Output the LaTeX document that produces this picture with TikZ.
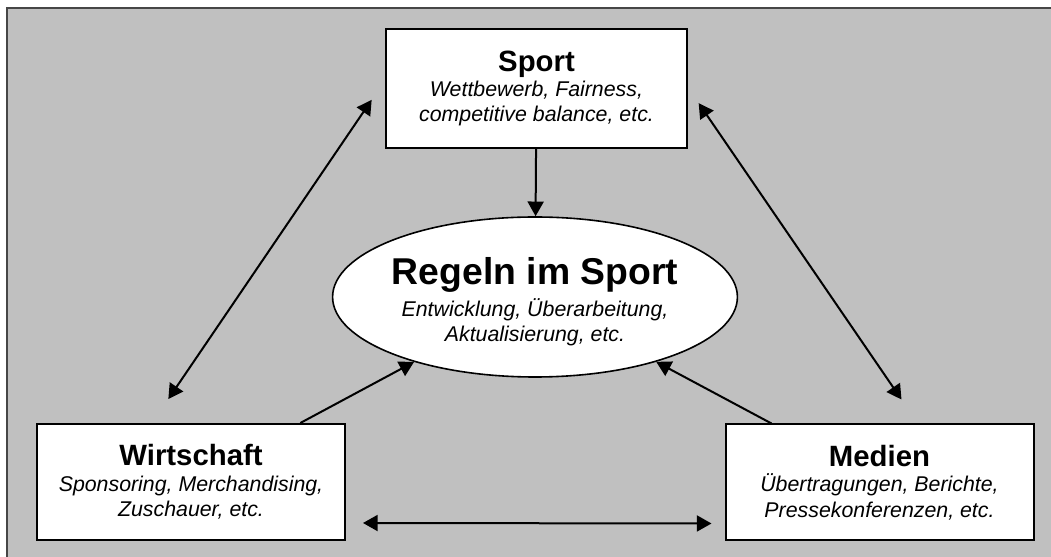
\documentclass[tikz,border=0pt]{standalone}
\usepackage{fontspec}
\setmainfont{Liberation Sans}
\usetikzlibrary{arrows.meta,shapes.geometric}
\definecolor{cfond}{RGB}{192,192,192}
\definecolor{cbord}{RGB}{70,70,70}
\newcommand{\titre}[1]{{\fontsize{22}{26}\selectfont\bfseries\upshape #1}}

\begin{document}
\begin{tikzpicture}[x=0.75pt, y=0.75pt, >={Triangle[length=11pt,width=12pt]},
  boite/.style={draw, fill=white, line width=1.5pt, align=center, inner sep=0pt,
    minimum width=231pt, minimum height=87pt, font=\fontsize{16}{19}\selectfont\itshape},
  fleche/.style={line width=1.5pt}]
\useasboundingbox (0,0) rectangle (1051,557);
\fill[cfond] (7,-2) rectangle (1053,549);
\draw[cbord, line width=1.5pt] (7,-2) -- (7,549) -- (1053,549);
\node[boite, minimum width=225.75pt, minimum height=89.25pt] (sport) at (536.5,468.5)
  {\titre{Sport}\\ Wettbewerb, Fairness,\\ competitive balance, etc.};
\node[boite, ellipse, line width=1.2pt, minimum width=265.5pt, minimum height=120pt] (regeln) at (535,260)
  {{\fontsize{28}{32}\selectfont\bfseries\upshape\rule{0pt}{28pt}Regeln im Sport}\\[3.5pt] Entwicklung, Überarbeitung,\\ Aktualisierung, etc.};
\node[boite] (wirtschaft) at (191,75)
  {\titre{Wirtschaft}\\ Sponsoring, Merchandising,\\ Zuschauer, etc.};
\node[boite] (medien) at (879.5,74.5)
  {\titre{Medien}\\ Übertragungen, Berichte,\\ Pressekonferenzen, etc.};
\draw[fleche,->] (sport) -- (regeln);
\draw[fleche,->] ([xshift=82pt]wirtschaft.north) -- (regeln);
\draw[fleche,->] ([xshift=-81pt]medien.north) -- (regeln);
\draw[fleche,<->] ([xshift=-17pt,yshift=18pt]wirtschaft.north) -- ([xshift=-10pt,yshift=-8.5pt]sport.west);
\draw[fleche,<->] ([xshift=8pt,yshift=-11pt]sport.east) -- ([xshift=16.5pt,yshift=18pt]medien.north);
\draw[fleche,<->] ([xshift=12.75pt,yshift=-30.75pt]wirtschaft.east) -- ([xshift=-9.75pt,yshift=-30.75pt]medien.west);
\end{tikzpicture}
\end{document}
